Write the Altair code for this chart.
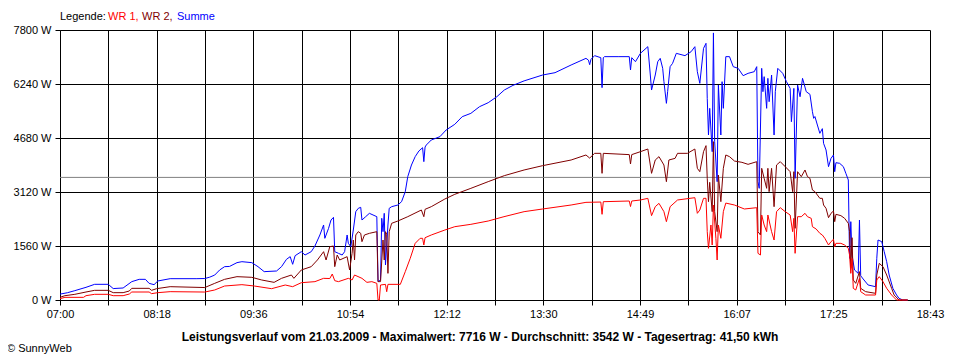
import altair as alt
import pandas as pd

# ---------------- data ----------------
SUMME_T = ["07:00","07:06","07:12","07:21","07:28","07:39","07:43","07:51","07:58","08:04","08:09","08:12","08:16","08:19","08:29","08:50",
           "08:57","09:01","09:05","09:09","09:13","09:17","09:23","09:27","09:35","09:40","09:45","09:55","09:59","10:03","10:06","10:08",
           "10:10","10:15","10:18","10:23","10:26","10:30","10:33","10:34","10:37","10:39","10:41","10:42","10:45","10:48","10:50","10:52",
           "10:53","10:55","10:57","10:59","11:01","11:03","11:04","11:07","11:10","11:16","11:17","11:19","11:20","11:21","11:22","11:23",
           "11:25","11:26","11:28","11:33","11:36","11:39","11:41","11:44","11:47","11:50","11:53","11:54","11:55","11:56","12:00","12:07",
           "12:12","12:19","12:25","12:32","12:39","12:46","12:53","12:59","13:06","13:15","13:30","13:40","13:53","14:05","14:07","14:08",
           "14:09","14:12","14:17","14:18","14:19","14:20","14:31","14:40","14:41","14:42","14:45","14:49","14:55","14:57","14:58","15:01",
           "15:03","15:05","15:07","15:08","15:10","15:11","15:13","15:15","15:18","15:25","15:30","15:33","15:35","15:37","15:40","15:42",
           "15:43","15:44","15:45","15:47","15:48","15:49","15:51","15:52","15:54","15:55","15:56","15:58","16:01","16:04","16:08","16:12",
           "16:16","16:21","16:23","16:24","16:25","16:27","16:28","16:29","16:31","16:32","16:33","16:35","16:37","16:38","16:40","16:44",
           "16:47","16:50","16:51","16:53","16:54","16:56","16:58","17:00","17:03","17:06","17:08","17:09","17:10","17:12","17:14","17:16",
           "17:17","17:19","17:21","17:23","17:25","17:26","17:27","17:30","17:33","17:35","17:37","17:38","17:39","17:40","17:42","17:45",
           "17:46","17:47","17:49","17:53","17:59","18:00","18:01","18:04","18:06","18:08","18:10","18:13","18:16","18:18","18:21","18:25"]
SUMME_W = [170,210,270,366,453,453,330,347,530,597,597,481,443,549,616,616,
           620,660,720,867,963,970,1079,1107,1079,963,819,838,963,1175,1252,1031,
           1281,1396,1300,1396,1560,1878,2167,1782,2070,2311,2388,1396,1348,1300,1396,1878,
           1637,1540,2022,2552,2648,2677,2311,2407,2504,2407,530,578,2360,1974,2504,1011,
           2167,2648,2696,2744,2841,3130,3563,3900,4141,4304,4400,3997,4420,4478,4622,4719,
           4911,5075,5296,5392,5585,5700,5873,6066,6200,6330,6500,6567,6789,6981,6930,6798,
           6950,7059,7000,6134,7000,7030,7030,7030,6644,7000,6885,7126,7318,6500,6066,6500,
           6885,6981,6692,6307,5681,6018,6741,6837,7126,7059,7174,7318,6596,6259,7270,7415,
           5826,4767,5537,4285,7716,4574,3418,6210,4767,6307,5537,7030,7030,6741,6692,6481,
           6548,6596,6741,3418,3226,6692,6018,6452,5537,6403,5729,6500,4767,6018,6692,6548,
           6307,6114,5151,6114,3515,6210,5873,6403,6018,5941,5441,5248,5300,5055,4815,4950,
           4526,4334,3852,4092,4189,3707,3967,3948,3852,3659,3467,1204,2263,1300,867,770,
           2311,700,607,433,385,1204,1733,1685,1396,1107,722,337,144,48,0,0]

WR2_T = ["07:00","07:04","07:12","07:21","07:28","07:39","07:43","07:51","07:56","07:58","08:12","08:14","08:18","08:29","08:57","09:05",
         "09:13","09:23","09:35","09:43","09:53","09:59","10:07","10:09","10:15","10:23","10:28","10:33","10:35","10:38","10:41","10:42",
         "10:44","10:46","10:52","10:54","10:56","10:57","10:58","10:59","11:01","11:03","11:04","11:06","11:10","11:16","11:17","11:19",
         "11:21","11:22","11:23","11:24","11:25","11:26","11:28","11:33","11:41","11:52","11:54","11:55","12:00","12:11","12:19","12:32",
         "12:46","12:59","13:15","13:30","13:53","14:05","14:08","14:12","14:17","14:18","14:19","14:40","14:41","14:42","14:49","14:55",
         "14:58","15:01","15:04","15:08","15:10","15:12","15:17","15:19","15:27","15:33","15:35","15:37","15:40","15:42","15:43","15:44",
         "15:45","15:47","15:48","15:49","15:51","15:52","15:54","15:56","15:58","16:01","16:05","16:11","16:16","16:23","16:24","16:26",
         "16:27","16:29","16:31","16:32","16:33","16:35","16:37","16:39","16:42","16:46","16:50","16:52","16:53","16:54","16:56","16:59",
         "17:02","17:04","17:06","17:08","17:10","17:12","17:14","17:16","17:17","17:19","17:21","17:23","17:25","17:26","17:27","17:31",
         "17:34","17:37","17:38","17:39","17:40","17:41","17:43","17:46","17:47","17:51","17:59","18:00","18:02","18:05","18:08","18:12",
         "18:14","18:18","18:25"]
WR2_W = [77,125,164,231,279,279,212,212,260,337,337,279,327,385,360,481,
         597,674,655,578,510,626,722,626,867,963,1156,1396,1156,1540,1560,963,
         1300,1156,1252,867,1348,1733,1156,1878,1974,1926,1685,1878,1926,1974,530,530,
         1733,1156,1974,1900,770,1974,2215,2282,2407,2600,2407,2620,2696,2918,3053,3226,
         3419,3592,3756,3881,4044,4189,4100,4237,4237,3659,4237,4200,3929,4200,4285,4362,
         3659,4044,4141,3900,3418,4044,4092,4237,4237,4362,3804,3707,4285,4459,3515,2841,
         3400,2552,4574,2552,1974,3611,2841,3804,4189,4141,4015,3977,3919,3996,1974,1878,
         3804,3515,3226,3804,3130,3804,2696,3900,3996,3852,3707,3130,3707,2070,3707,3563,
         3756,3563,3515,3178,3130,3033,2937,2937,2744,2648,2378,2504,2571,2263,2475,2437,
         2360,2215,1974,915,1800,578,481,819,337,241,193,722,1059,963,722,337,
         144,0,0]

WR1_T = ["07:00","07:04","07:19","07:21","07:28","07:39","07:43","07:51","07:56","07:58","08:12","08:14","08:19","08:29","08:57","09:05",
         "09:13","09:27","09:37","09:51","10:02","10:08","10:15","10:26","10:33","10:38","10:40","10:42","10:45","10:53","10:56","10:58",
         "11:04","11:08","11:12","11:16","11:17","11:18","11:19","11:23","11:24","11:25","11:35","11:39","11:43","11:47","11:51","11:53",
         "11:54","11:55","12:00","12:11","12:19","12:32","12:46","12:58","13:15","13:30","13:53","14:05","14:17","14:18","14:19","14:40",
         "14:41","14:42","14:49","14:55","14:58","15:01","15:04","15:08","15:10","15:13","15:19","15:33","15:35","15:37","15:40","15:42",
         "15:43","15:44","15:46","15:47","15:48","15:50","15:51","15:52","15:54","15:56","15:58","16:05","16:13","16:23","16:24","16:26",
         "16:27","16:29","16:31","16:32","16:35","16:37","16:39","16:42","16:46","16:50","16:52","16:53","16:54","16:56","16:59","17:02",
         "17:04","17:07","17:08","17:11","17:14","17:16","17:18","17:21","17:23","17:25","17:26","17:27","17:31","17:34","17:37","17:38",
         "17:39","17:40","17:41","17:43","17:46","17:47","17:51","17:59","18:00","18:02","18:05","18:08","18:12","18:16","18:25"]
WR1_W = [38,77,77,125,164,164,125,125,173,231,231,183,212,241,230,289,
         404,443,404,327,433,385,500,530,626,620,751,558,530,626,578,722,
         626,510,530,481,0,0,433,452,240,452,452,819,1204,1637,1782,1782,
         1589,1800,1878,2022,2118,2186,2282,2400,2552,2629,2744,2821,2830,2475,2840,2860,
         2700,2860,2889,2937,2437,2696,2792,2552,2263,2696,2889,2956,2504,2600,2937,2937,
         1974,1493,2167,1589,2744,1782,1156,2167,1782,2552,2800,2744,2629,2667,1348,1300,
         2456,2167,1974,2456,1974,1733,2552,2667,2552,2456,1974,2360,1348,2407,2407,2504,
         2407,2360,2118,2051,1926,1878,1782,1589,1685,1752,1541,1637,1637,1589,1493,1300,
         770,1200,337,289,626,241,144,144,578,674,530,337,144,0,0]

X_LABELS = ["07:00", "08:18", "09:36", "10:54", "12:12", "13:30", "14:49", "16:07", "17:25", "18:43"]
Y_TICKS = [0, 1560, 3120, 4680, 6240, 7800]
AVG = 3542
TITLE = "Leistungsverlauf vom 21.03.2009 - Maximalwert: 7716 W - Durchschnitt: 3542 W - Tagesertrag: 41,50 kWh"
LEGEND_TEXT = ["Legende:", "WR 1,", "WR 2,", "Summe"]
COPYRIGHT = "© SunnyWeb"

# ---------------- styling ----------------
C_WR1 = "#ff0000"
C_WR2 = "#800000"
C_SUM = "#0000ff"
LEGEND_COLORS = ["#000000", C_WR1, C_WR2, C_SUM]
LEGEND_X = [0, 48, 82, 117]
FONT = "Liberation Sans"


def to_min(s):
    h, m = s.split(":")
    return int(h) * 60 + int(m) - 7 * 60


def frame(ts, ws):
    return pd.DataFrame({"t": [to_min(s) for s in ts], "w": ws})


T_MAX = to_min(X_LABELS[-1])
x_ticks = [i * T_MAX / 18 for i in range(19)]
lab_arr = "[" + ",".join("'" + l + "'" for l in X_LABELS) + "]"
label_expr = (f"(round(datum.value*18/{T_MAX}) % 2 == 0) ? "
              f"{lab_arr}[round(datum.value*9/{T_MAX})] : ''")

x_enc = alt.X(
    "t:Q",
    scale=alt.Scale(domain=[0, T_MAX], nice=False, zero=False),
    axis=alt.Axis(values=x_ticks, labelExpr=label_expr, title=None, grid=True,
                  gridColor="black", gridOpacity=1, gridWidth=1,
                  domainColor="black", tickColor="black", tickSize=5,
                  labelColor="black", labelFont=FONT, labelFontSize=11,
                  labelPadding=3, labelFlush=False, labelOverlap=False),
)
y_enc = alt.Y(
    "w:Q",
    scale=alt.Scale(domain=[0, 7800], nice=False),
    axis=alt.Axis(values=Y_TICKS, labelExpr="datum.value + ' W'", title=None, grid=True,
                  gridColor="black", gridOpacity=1, gridWidth=1,
                  domainColor="black", tickColor="black", tickSize=5,
                  labelColor="black", labelFont=FONT, labelFontSize=11,
                  labelPadding=4, labelFlush=False, labelOverlap=False),
)

avg_layer = alt.Chart(pd.DataFrame({"w": [AVG]})).mark_rule(
    color="#808080", strokeWidth=1).encode(y=y_enc)

lines = []
for ts, ws, col in [(SUMME_T, SUMME_W, C_SUM), (WR2_T, WR2_W, C_WR2), (WR1_T, WR1_W, C_WR1)]:
    lines.append(alt.Chart(frame(ts, ws)).mark_line(color=col, strokeWidth=1).encode(x=x_enc, y=y_enc))

one = pd.DataFrame({"k": [0]})
texts = []
for label, col, xo in zip(LEGEND_TEXT, LEGEND_COLORS, LEGEND_X):
    texts.append(alt.Chart(one).mark_text(align="left", baseline="middle", font=FONT,
                                          fontSize=11, color=col).encode(
        x=alt.value(xo), y=alt.value(-13), text=alt.value(label)))

texts.append(alt.Chart(one).mark_text(align="center", baseline="middle", font=FONT,
                                      fontSize=12, fontWeight="bold", color="black").encode(
    x=alt.value(420), y=alt.value(307), text=alt.value(TITLE)))
texts.append(alt.Chart(one).mark_text(align="left", baseline="middle", font=FONT,
                                      fontSize=11, color="black").encode(
    x=alt.value(-53), y=alt.value(319), text=alt.value(COPYRIGHT)))

chart = alt.layer(avg_layer, *lines, *texts).properties(
    width=870, height=270,
    padding={"left": 52, "top": 22, "right": 20, "bottom": 58},
    autosize=alt.AutoSizeParams(type="none"),
    background="white",
).configure_view(stroke="transparent")

chart.save("out.html", embed_options={"renderer": "svg", "actions": False})
